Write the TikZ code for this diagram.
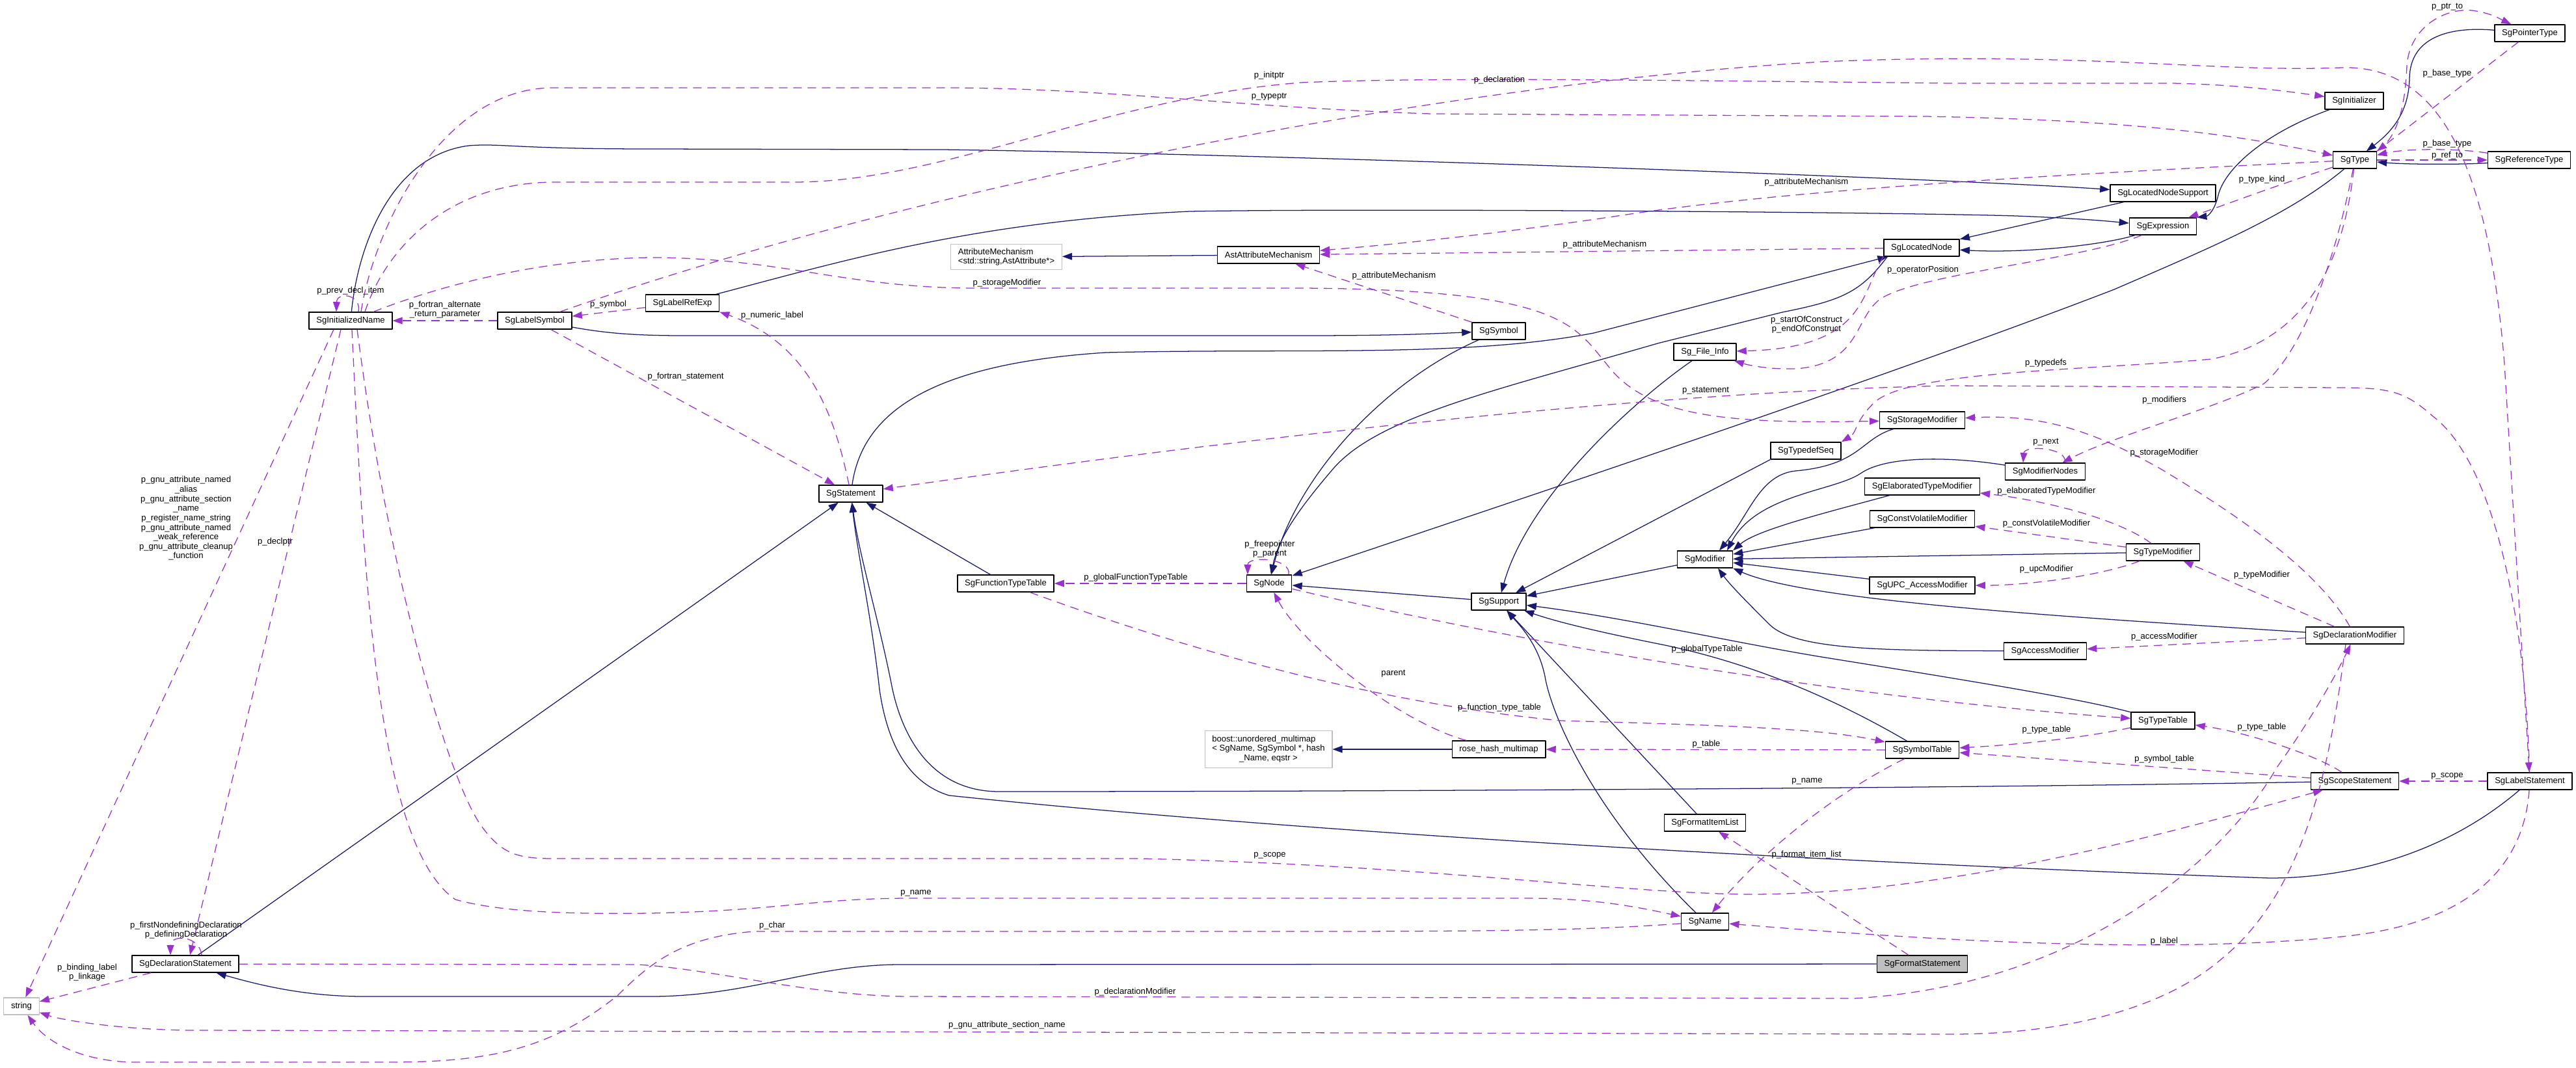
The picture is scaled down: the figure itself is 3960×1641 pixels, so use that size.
\documentclass[tikz,border=0pt]{standalone}
\usepackage{fontspec}
\setmainfont{Liberation Sans}
\usetikzlibrary{arrows.meta,calc}
\definecolor{edgeblue}{HTML}{191970}
\definecolor{edgepurple}{HTML}{9A32CD}
\definecolor{grey75}{HTML}{BFBFBF}
\begin{document}
\begin{tikzpicture}[x=0.25mm, y=-0.25mm, line join=round, >={Triangle[length=3.8mm,width=2.7mm]},
    font=\fontsize{9.3}{10.4}\selectfont,
    cls/.style={draw=black, fill=white, line width=0.9pt, inner xsep=2.8mm, inner ysep=1.6mm, minimum height=6.5mm},
    ext/.style={cls, draw=grey75},
    inherit/.style={->, draw=edgeblue, line width=0.9pt},
    uses/.style={->, draw=edgepurple, line width=0.9pt, dash pattern=on 3.3mm off 2.2mm},
    lbl/.style={inner sep=0pt, align=center}]
\path[use as bounding box, fill=white] (0,0) rectangle (3960,1641);
% classes
\node[cls] (SgPointerType) at (3889,51) {SgPointerType};
\node[cls] (SgInitializer) at (3619,155) {SgInitializer};
\node[cls] (SgType) at (3620,246) {SgType};
\node[cls] (SgReferenceType) at (3888,246) {SgReferenceType};
\node[cls] (SgLocatedNodeSupport) at (3325,297) {SgLocatedNodeSupport};
\node[cls] (SgExpression) at (3325,348) {SgExpression};
\node[cls] (SgLocatedNode) at (2954,381) {SgLocatedNode};
\node[cls] (AstAttributeMechanism) at (1950,392) {AstAttributeMechanism};
\node[ext, align=left] (AttributeMechanism) at (1547,395) {AttributeMechanism\\<std::string,AstAttribute*>};
\node[cls] (SgLabelRefExp) at (1049,466) {SgLabelRefExp};
\node[cls] (SgInitializedName) at (539,493) {SgInitializedName};
\node[cls] (SgLabelSymbol) at (822,493) {SgLabelSymbol};
\node[cls] (SgSymbol) at (2304,509) {SgSymbol};
\node[cls] (SgFileInfo) at (2621,541) {Sg\_File\_Info};
\node[cls] (SgStorageModifier) at (2955,646) {SgStorageModifier};
\node[cls] (SgTypedefSeq) at (2776,693) {SgTypedefSeq};
\node[cls] (SgModifierNodes) at (3144,725) {SgModifierNodes};
\node[cls] (SgElaboratedTypeModifier) at (2955,748) {SgElaboratedTypeModifier};
\node[cls] (SgStatement) at (1308,759) {SgStatement};
\node[cls] (SgConstVolatileModifier) at (2955,798) {SgConstVolatileModifier};
\node[cls] (SgTypeModifier) at (3325,849) {SgTypeModifier};
\node[cls] (SgModifier) at (2621,860) {SgModifier};
\node[cls] (SgFunctionTypeTable) at (1546,897) {SgFunctionTypeTable};
\node[cls] (SgNode) at (1951,897) {SgNode};
\node[cls] (SgUPCAccessModifier) at (2955,900) {SgUPC\_AccessModifier};
\node[cls] (SgSupport) at (2304,925) {SgSupport};
\node[cls] (SgDeclarationModifier) at (3620,977) {SgDeclarationModifier};
\node[cls] (SgAccessModifier) at (3144,1001) {SgAccessModifier};
\node[cls] (SgTypeTable) at (3325,1108) {SgTypeTable};
\node[ext] (boostMultimap) at (1950,1152) {\begin{tabular}{@{}l@{}}boost::unordered\_multimap\\< SgName, SgSymbol *, hash\\\multicolumn{1}{@{}c@{}}{\_Name, eqstr >}\end{tabular}};
\node[cls] (roseHashMultimap) at (2304,1152) {rose\_hash\_multimap};
\node[cls] (SgSymbolTable) at (2955,1153) {SgSymbolTable};
\node[cls] (SgScopeStatement) at (3620,1201) {SgScopeStatement};
\node[cls] (SgLabelStatement) at (3889,1201) {SgLabelStatement};
\node[cls] (SgFormatItemList) at (2621,1265) {SgFormatItemList};
\node[cls] (SgName) at (2621,1417) {SgName};
\node[cls] (SgDeclarationStatement) at (285,1482) {SgDeclarationStatement};
\node[cls, fill=grey75] (SgFormatStatement) at (2955,1482) {SgFormatStatement};
\node[ext] (stdString) at (33,1547) {string};
% inheritance
\draw[inherit] (SgDeclarationStatement) -- (SgStatement);
\draw[inherit] (SgFunctionTypeTable) -- (SgStatement);
\draw[inherit] (SgScopeStatement) .. controls (3000,1212) and (2100,1217) .. (1536,1217) .. controls (1430,1217) and (1385,1130) .. (1370,1050) .. controls (1350,950) and (1320,850) .. (SgStatement);
\draw[inherit] (SgLabelStatement) .. controls (3750,1320) and (3600,1350) .. (3489,1350) .. controls (3200,1340) and (2200,1300) .. (1459,1223) .. controls (1400,1205) and (1365,1150) .. (1352,1060) .. controls (1340,950) and (1318,850) .. (SgStatement);
\draw[inherit] (SgFormatStatement) -- (1383,1483) .. controls (1250,1483) and (1150,1532) .. (1000,1532) -- (560,1532) .. controls (470,1532) and (400,1515) .. (SgDeclarationStatement);
\draw[inherit] (SgStatement) .. controls (1325,640) and (1420,560) .. (1700,542) .. controls (2000,535) and (2250,550) .. (2450,512) -- (SgLocatedNode);
\draw[inherit] (SgExpression) .. controls (3240,375) and (3120,390) .. (SgLocatedNode);
\draw[inherit] (SgLocatedNodeSupport) -- (SgLocatedNode);
\draw[inherit] ($(SgLocatedNode.south west)+(6,0)$) .. controls (2860,450) and (2830,462) .. (2740,480) -- (2548,528) .. controls (2300,600) and (2120,640) .. (2050,720) .. controls (1990,790) and (1965,830) .. (SgNode);
\draw[inherit] (SgSymbol) .. controls (2120,590) and (1990,740) .. (SgNode);
\draw[inherit] (SgType) .. controls (3520,330) and (3400,380) .. (3250,445) .. controls (2900,580) and (2300,780) .. (SgNode);
\draw[inherit] (SgSupport) -- (SgNode);
\draw[inherit] (SgLabelSymbol) .. controls (920,510) and (960,516) .. (1050,516) -- (2000,516) .. controls (2150,516) and (2200,513) .. (SgSymbol);
\draw[inherit] (SgLabelRefExp) .. controls (1300,400) and (1500,340) .. (1829,325) .. controls (2100,320) and (2900,326) .. (3100,332) .. controls (3200,336) and (3240,340) .. (SgExpression);
\draw[inherit] (SgInitializer) .. controls (3480,205) and (3420,260) .. (3410,300) .. controls (3405,322) and (3395,332) .. (SgExpression.north east);
\draw[inherit] (SgInitializedName) .. controls (550,380) and (600,240) .. (720,224) .. controls (770,220) and (790,229) .. (1000,229) -- (1450,230) .. controls (2000,238) and (3000,275) .. (SgLocatedNodeSupport);
\draw[inherit] (SgPointerType) .. controls (3760,40) and (3705,60) .. (3704,120) .. controls (3703,170) and (3680,200) .. (SgType);
\draw[inherit] (SgReferenceType) .. controls (3790,253) and (3700,253) .. (SgType);
\draw[inherit] (AstAttributeMechanism) -- (AttributeMechanism);
\draw[inherit] (roseHashMultimap) -- (boostMultimap);
\draw[inherit] (SgFileInfo) .. controls (2520,610) and (2350,760) .. (SgSupport);
\draw[inherit] (SgTypedefSeq.south west) -- (SgSupport);
\draw[inherit] (SgModifier) -- (SgSupport);
\draw[inherit] (SgName) .. controls (2450,1250) and (2385,1100) .. (2375,1040) .. controls (2365,990) and (2335,960) .. (SgSupport);
\draw[inherit] (SgFormatItemList) -- (SgSupport);
\draw[inherit] (SgSymbolTable) .. controls (2830,1080) and (2700,1020) .. (2550,990) .. controls (2450,970) and (2390,955) .. (SgSupport);
\draw[inherit] (SgTypeTable) .. controls (3200,1075) and (3050,1050) .. (2800,1010) .. controls (2650,985) and (2500,950) .. (SgSupport);
\draw[inherit] (SgStorageModifier) .. controls (2860,675) and (2860,715) .. (2760,724) .. controls (2705,730) and (2690,790) .. ($(SgModifier.north)+(22,0)$);
\draw[inherit] (SgModifierNodes) .. controls (3000,702) and (2900,700) .. (2860,728) .. controls (2820,755) and (2700,760) .. ($(SgModifier.north)+(34,0)$);
\draw[inherit] (SgElaboratedTypeModifier) .. controls (2800,790) and (2700,815) .. (SgModifier.north east);
\draw[inherit] (SgConstVolatileModifier) -- (SgModifier);
\draw[inherit] (SgTypeModifier) -- (SgModifier);
\draw[inherit] (SgUPCAccessModifier) -- (SgModifier);
\draw[inherit] (SgDeclarationModifier) .. controls (3200,950) and (2780,925) .. (SgModifier.south east);
\draw[inherit] (SgAccessModifier) .. controls (2900,1000) and (2760,1000) .. (2720,960) .. controls (2690,930) and (2660,900) .. ($(SgModifier.south)+(20,0)$);
% members
\draw[uses] ($(SgInitializedName.north)+(12,0)$) .. controls (556,452) and (518,448) .. ($(SgInitializedName.north)+(-22,0)$);
\draw[uses] (SgLabelSymbol) -- (SgInitializedName);
\draw[uses] (SgLabelRefExp) -- (SgLabelSymbol);
\draw[uses] (SgStatement) .. controls (1285,650) and (1250,530) .. (SgLabelRefExp.south east);
\draw[uses] (SgLabelSymbol) -- (SgStatement);
\draw[uses] (SgLabelStatement) .. controls (3880,900) and (3820,700) .. (3740,640) .. controls (3700,605) and (3680,596) .. (3600,596) -- (3000,593) .. controls (2600,600) and (2000,660) .. (SgStatement);
\draw[uses] (SgLabelSymbol) .. controls (1400,290) and (2200,130) .. (2800,95) .. controls (3200,78) and (3400,112) .. (3600,104) .. controls (3750,100) and (3825,250) .. (3850,560) -- (SgLabelStatement);
\draw[uses] ($(SgInitializedName.north)+(16,0)$) .. controls (575,350) and (680,135) .. (850,135) -- (1450,135) .. controls (1700,135) and (1900,165) .. (2200,175) -- (2960,179) .. controls (3300,185) and (3450,210) .. (SgType);
\draw[uses] ($(SgInitializedName.north)+(22,0)$) .. controls (590,390) and (680,282) .. (850,280) -- (1220,280) .. controls (1450,280) and (1700,150) .. (2000,127) .. controls (2200,118) and (2600,124) .. (3000,128) -- (3340,128) .. controls (3430,130) and (3500,138) .. (SgInitializer);
\draw[uses] ($(SgInitializedName.north)+(35,0)$) .. controls (700,430) and (850,398) .. (1000,396) .. controls (1200,396) and (1300,443) .. (1500,443) -- (2000,443) .. controls (2400,445) and (2420,500) .. (2470,560) .. controls (2530,640) and (2650,652) .. (SgStorageModifier);
\draw[uses] ($(SgInitializedName.south)+(-26,0)$) -- (stdString);
\draw[uses] ($(SgInitializedName.south)+(-15,0)$) -- ($(SgDeclarationStatement.north)+(7,0)$);
\draw[uses] ($(SgDeclarationStatement.north)+(25,0)$) .. controls (307,1438) and (262,1436) .. ($(SgDeclarationStatement.north)+(-23,0)$);
\draw[uses] ($(SgInitializedName.south)+(2,0)$) .. controls (560,900) and (580,1300) .. (700,1383) .. controls (780,1405) and (900,1405) .. (1000,1404) .. controls (1200,1400) and (1250,1381) .. (1400,1381) -- (2350,1381) .. controls (2450,1381) and (2520,1395) .. (SgName);
\draw[uses] ($(SgInitializedName.south)+(10,0)$) .. controls (600,900) and (690,1200) .. (740,1270) .. controls (770,1310) and (790,1320) .. (850,1320) -- (1750,1320) .. controls (2200,1330) and (2500,1375) .. (2700,1375) .. controls (3000,1372) and (3300,1290) .. (SgScopeStatement);
\draw[uses] (SgType) .. controls (3300,262) and (2800,285) .. (2500,330) .. controls (2300,360) and (2150,375) .. (AstAttributeMechanism);
\draw[uses] (SgLocatedNode) -- (AstAttributeMechanism);
\draw[uses] (SgSymbol) -- (AstAttributeMechanism);
\draw[uses] (SgLocatedNode.south west) .. controls (2860,450) and (2870,535) .. (SgFileInfo);
\draw[uses] (SgExpression) .. controls (3200,400) and (2950,420) .. (2890,460) .. controls (2850,490) and (2860,560) .. (2760,567) .. controls (2720,568) and (2690,562) .. (SgFileInfo);
\draw[uses] (SgType) .. controls (3605,380) and (3560,520) .. (3400,552) .. controls (3200,570) and (2930,570) .. (2880,620) .. controls (2850,650) and (2855,665) .. (SgTypedefSeq.north east);
\draw[uses] (SgType) .. controls (3590,400) and (3540,540) .. (3480,590) .. controls (3400,630) and (3250,670) .. (SgModifierNodes);
\draw[uses] ($(SgModifierNodes.north)+(30,0)$) .. controls (3180,688) and (3112,684) .. ($(SgModifierNodes.north)+(-34,0)$);
\draw[uses] (SgTypeModifier) .. controls (3260,800) and (3150,770) .. (SgElaboratedTypeModifier);
\draw[uses] (SgTypeModifier) -- (SgConstVolatileModifier);
\draw[uses] (SgTypeModifier) .. controls (3230,885) and (3120,900) .. (SgUPCAccessModifier);
\draw[uses] (SgDeclarationModifier) -- (SgTypeModifier);
\draw[uses] (SgDeclarationModifier) -- (SgAccessModifier);
\draw[uses] (SgDeclarationModifier) .. controls (3560,870) and (3420,780) .. (3320,720) .. controls (3230,670) and (3150,636) .. (SgStorageModifier);
\draw[uses] (SgDeclarationStatement) -- (980,1483) .. controls (1100,1490) and (1250,1532) .. (1400,1532) -- (2850,1535) .. controls (3200,1515) and (3420,1320) .. (3500,1180) .. controls (3550,1110) and (3590,1040) .. (SgDeclarationModifier);
\draw[uses] (SgDeclarationStatement) -- (stdString);
\draw[uses] ($(SgDeclarationModifier.south)+(-14,0)$) .. controls (3590,1100) and (3565,1350) .. (3420,1470) .. controls (3320,1560) and (3150,1590) .. (3000,1590) -- (300,1584) .. controls (200,1584) and (100,1570) .. (stdString);
\draw[uses] (SgName) .. controls (2450,1430) and (2300,1432) .. (2000,1432) -- (1160,1432) .. controls (1050,1440) and (1000,1480) .. (950,1530) .. controls (850,1610) and (760,1633) .. (600,1633) -- (200,1633) .. controls (120,1630) and (70,1600) .. (stdString);
\draw[uses] (SgSymbolTable) .. controls (2800,1230) and (2690,1330) .. (SgName);
\draw[uses] (SgLabelStatement) .. controls (3880,1330) and (3800,1420) .. (3600,1440) .. controls (3300,1470) and (2900,1440) .. (SgName);
\draw[uses] (SgFormatStatement) -- (SgFormatItemList);
\draw[uses] (SgLabelStatement) -- (SgScopeStatement);
\draw[uses] (SgScopeStatement) .. controls (3560,1160) and (3450,1125) .. (SgTypeTable);
\draw[uses] (SgScopeStatement) -- (SgSymbolTable);
\draw[uses] (SgTypeTable) .. controls (3200,1135) and (3100,1145) .. (SgSymbolTable);
\draw[uses] (SgSymbolTable) -- (roseHashMultimap);
\draw[uses] (roseHashMultimap) .. controls (2150,1110) and (2000,990) .. (SgNode);
\draw[uses] (SgFunctionTypeTable) .. controls (1800,990) and (2100,1080) .. (2400,1108) .. controls (2650,1115) and (2800,1120) .. (SgSymbolTable);
\draw[uses] (SgNode) .. controls (2300,980) and (2800,1070) .. (SgTypeTable);
\draw[uses] (SgNode) -- (SgFunctionTypeTable);
\draw[uses] ($(SgNode.north)+(30,0)$) .. controls (1986,858) and (1918,854) .. ($(SgNode.north)+(-33,0)$);
\draw[uses] (SgPointerType) -- (SgType.north east);
\draw[uses] (SgType.north east) .. controls (3690,210) and (3698,150) .. (3700,100) .. controls (3705,40) and (3760,12) .. (3800,16) .. controls (3830,20) and (3845,30) .. (SgPointerType);
\draw[uses] (SgReferenceType) .. controls (3780,228) and (3700,228) .. (SgType);
\draw[uses] (SgType) -- (SgReferenceType);
\draw[uses] (SgType) .. controls (3500,285) and (3420,315) .. (SgExpression);
% member labels
\node[lbl] (lPrevDeclItem) at (539,447) {p\_prev\_decl\_item};
\node[lbl] (lAltReturn) at (684,476) {p\_fortran\_alternate\\\_return\_parameter};
\node[lbl] (lSymbol) at (935,468) {p\_symbol};
\node[lbl] (lNumericLabel) at (1187,485) {p\_numeric\_label};
\node[lbl] (lFortranStatement) at (1054,579) {p\_fortran\_statement};
\node[lbl] (lStatement) at (2622,601) {p\_statement};
\node[lbl] (lDeclaration) at (2305,123) {p\_declaration};
\node[lbl] (lTypeptr) at (1951,149) {p\_typeptr};
\node[lbl] (lInitptr) at (1951,116) {p\_initptr};
\node[lbl] (lStorageModifierA) at (1548,435) {p\_storageModifier};
\node[lbl] (lGnuAttributes) at (286,797) {p\_gnu\_attribute\_named\\\_alias\\p\_gnu\_attribute\_section\\\_name\\p\_register\_name\_string\\p\_gnu\_attribute\_named\\\_weak\_reference\\p\_gnu\_attribute\_cleanup\\\_function};
\node[lbl] (lDeclptr) at (423,833) {p\_declptr};
\node[lbl] (lDeclSelf) at (286,1430) {p\_firstNondefiningDeclaration\\p\_definingDeclaration};
\node[lbl] (lNameA) at (1408,1373) {p\_name};
\node[lbl] (lScopeA) at (1952,1315) {p\_scope};
\node[lbl] (lAttrA) at (2777,280) {p\_attributeMechanism};
\node[lbl] (lAttrB) at (2467,376) {p\_attributeMechanism};
\node[lbl] (lAttrC) at (2143,424) {p\_attributeMechanism};
\node[lbl] (lConstruct) at (2777,499) {p\_startOfConstruct\\p\_endOfConstruct};
\node[lbl] (lOperatorPos) at (2956,415) {p\_operatorPosition};
\node[lbl] (lTypedefs) at (3145,558) {p\_typedefs};
\node[lbl] (lModifiers) at (3327,615) {p\_modifiers};
\node[lbl] (lNext) at (3145,680) {p\_next};
\node[lbl] (lElaborated) at (3146,755) {p\_elaboratedTypeModifier};
\node[lbl] (lConstVolatile) at (3146,805) {p\_constVolatileModifier};
\node[lbl] (lUpc) at (3146,875) {p\_upcModifier};
\node[lbl] (lTypeModifier) at (3477,884) {p\_typeModifier};
\node[lbl] (lAccessModifier) at (3327,979) {p\_accessModifier};
\node[lbl] (lStorageModifierB) at (3327,696) {p\_storageModifier};
\node[lbl] (lDeclModifier) at (1745,1525) {p\_declarationModifier};
\node[lbl] (lBinding) at (134,1495) {p\_binding\_label\\p\_linkage};
\node[lbl] (lSectionName) at (1548,1576) {p\_gnu\_attribute\_section\_name};
\node[lbl] (lChar) at (1187,1423) {p\_char};
\node[lbl] (lNameB) at (2778,1201) {p\_name};
\node[lbl] (lLabel) at (3327,1447) {p\_label};
\node[lbl] (lFormatItems) at (2777,1314) {p\_format\_item\_list};
\node[lbl] (lScopeB) at (3762,1193) {p\_scope};
\node[lbl] (lTypeTableA) at (3477,1118) {p\_type\_table};
\node[lbl] (lSymbolTable) at (3327,1167) {p\_symbol\_table};
\node[lbl] (lTypeTableB) at (3146,1122) {p\_type\_table};
\node[lbl] (lTable) at (2623,1144) {p\_table};
\node[lbl] (lParent) at (2142,1036) {parent};
\node[lbl] (lFunctionTypeTable) at (2305,1088) {p\_function\_type\_table};
\node[lbl] (lGlobalTypeTable) at (2624,998) {p\_globalTypeTable};
\node[lbl] (lGlobalFunctionTypeTable) at (1746,888) {p\_globalFunctionTypeTable};
\node[lbl] (lFreepointer) at (1952,844) {p\_freepointer\\p\_parent};
\node[lbl] (lBaseTypeA) at (3762,113) {p\_base\_type};
\node[lbl] (lPtrTo) at (3762,11) {p\_ptr\_to};
\node[lbl] (lBaseTypeB) at (3762,221) {p\_base\_type};
\node[lbl] (lRefTo) at (3762,239) {p\_ref\_to};
\node[lbl] (lTypeKind) at (3477,276) {p\_type\_kind};
\end{tikzpicture}
\end{document}
